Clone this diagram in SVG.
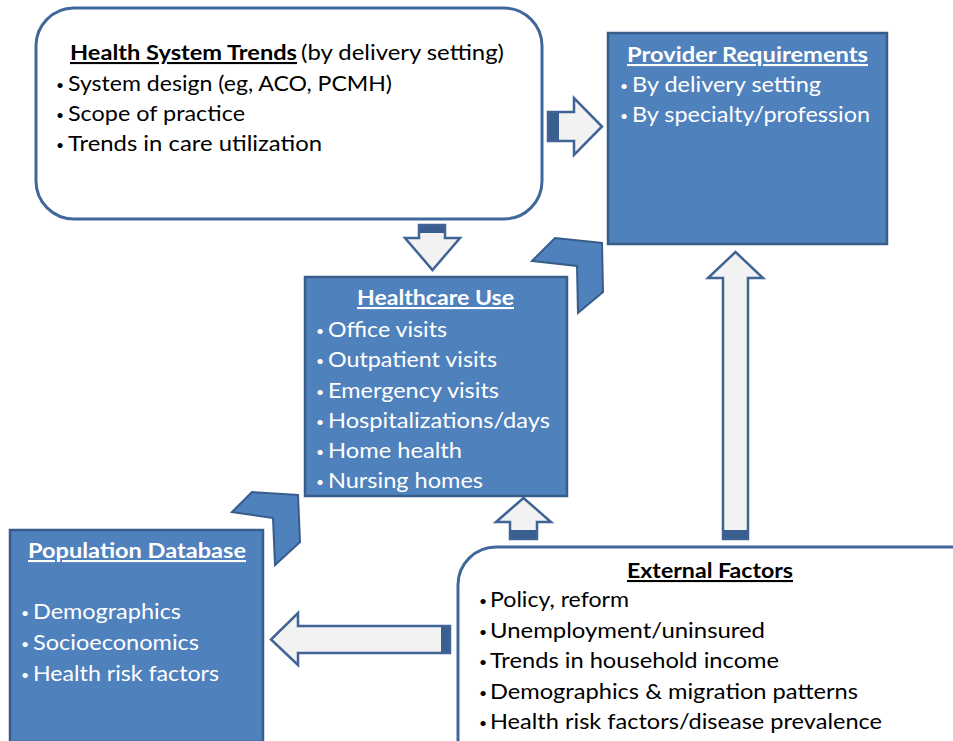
<svg xmlns="http://www.w3.org/2000/svg" width="953" height="741" viewBox="0 0 953 741">
<style>
.wbox{fill:#FFFFFF;stroke:#41689A;stroke-width:3}
.bbox{fill:#4F81BD;stroke:#385D8A;stroke-width:2.5}
.t{font-family:Lato,"Liberation Sans",sans-serif;font-size:21px}
.b{font-family:Lato,"Liberation Sans",sans-serif;font-size:14px}
.dk{fill:#000000}
.wt{fill:#FFFFFF}
.ttl{font-weight:bold;text-decoration:underline}
.arr{fill:#F2F2F2;stroke:#3F6495;stroke-width:2.5;stroke-linejoin:miter}
.arrd{fill:#3A5F8F}
.chev{fill:#4F81BD;stroke:#385D8A;stroke-width:2}
</style>
<rect width="953" height="741" fill="#FFFFFF"/>

<g id="connectors">
<path class="arr" d="M548,112 H574 V98 L602,126.5 L574,155 V141 H548 Z"/>
<rect class="arrd" x="549" y="113" width="10" height="27"/>
<path class="arr" d="M419,225 H445 V238 H460 L432.5,270 L405,238 H419 Z"/>
<rect class="arrd" x="420" y="226" width="24" height="7"/>
<path class="chev" d="M532,261 L555,238 L602,243 L603,292 L578,313 L577,266 Z"/>
<path class="chev" d="M232,512 L252,492 L298,495 L300,542 L275,565 L273,518 Z"/>
<path class="arr" d="M510,539 V522 H496 L523.5,498 L551,522 H537 V539 Z"/>
<rect class="arrd" x="511" y="530" width="25" height="8"/>
<path class="arr" d="M723,539 V278 H708 L735.5,252 L763,278 H748 V539 Z"/>
<rect class="arrd" x="724" y="530" width="23" height="8"/>
<path class="arr" d="M450,626 H298 V613 L271,639.5 L298,665 V653 H450 Z"/>
<rect class="arrd" x="441" y="627" width="8" height="25"/>
</g>

<g id="health-system-trends">
<rect class="wbox" x="36" y="8" width="506" height="211" rx="38" ry="38"/>
<text class="t dk ttl" x="70" y="60" textLength="227" lengthAdjust="spacingAndGlyphs">Health System Trends</text>
<text class="t dk" x="301" y="60" textLength="203" lengthAdjust="spacingAndGlyphs">(by delivery setting)</text>
<text class="b dk" x="56" y="90">•</text>
<text class="t dk" x="68" y="91" textLength="324" lengthAdjust="spacingAndGlyphs">System design (eg, ACO, PCMH)</text>
<text class="b dk" x="56" y="120">•</text>
<text class="t dk" x="68" y="121" textLength="177" lengthAdjust="spacingAndGlyphs">Scope of practice</text>
<text class="b dk" x="56" y="150">•</text>
<text class="t dk" x="68" y="151" textLength="254" lengthAdjust="spacingAndGlyphs">Trends in care utilization</text>
</g>

<g id="provider-requirements">
<rect class="bbox" x="608" y="33" width="279" height="211"/>
<text class="t wt ttl" x="627" y="62" textLength="241" lengthAdjust="spacingAndGlyphs">Provider Requirements</text>
<text class="b wt" x="620" y="91">•</text>
<text class="t wt" x="632" y="92" textLength="189" lengthAdjust="spacingAndGlyphs">By delivery setting</text>
<text class="b wt" x="620" y="121">•</text>
<text class="t wt" x="632" y="122" textLength="238" lengthAdjust="spacingAndGlyphs">By specialty/profession</text>
</g>

<g id="healthcare-use">
<rect class="bbox" x="305" y="277" width="262" height="219"/>
<text class="t wt ttl" x="357" y="305" textLength="157" lengthAdjust="spacingAndGlyphs">Healthcare Use</text>
<text class="b wt" x="316" y="336">•</text>
<text class="t wt" x="328" y="337" textLength="119" lengthAdjust="spacingAndGlyphs">Office visits</text>
<text class="b wt" x="316" y="366">•</text>
<text class="t wt" x="328" y="367" textLength="169" lengthAdjust="spacingAndGlyphs">Outpatient visits</text>
<text class="b wt" x="316" y="397">•</text>
<text class="t wt" x="328" y="398" textLength="171" lengthAdjust="spacingAndGlyphs">Emergency visits</text>
<text class="b wt" x="316" y="427">•</text>
<text class="t wt" x="328" y="428" textLength="222" lengthAdjust="spacingAndGlyphs">Hospitalizations/days</text>
<text class="b wt" x="316" y="457">•</text>
<text class="t wt" x="328" y="458" textLength="134" lengthAdjust="spacingAndGlyphs">Home health</text>
<text class="b wt" x="316" y="487">•</text>
<text class="t wt" x="328" y="488" textLength="155" lengthAdjust="spacingAndGlyphs">Nursing homes</text>
</g>

<g id="population-database">
<rect class="bbox" x="10" y="530" width="253" height="212"/>
<text class="t wt ttl" x="28" y="558" textLength="218" lengthAdjust="spacingAndGlyphs">Population Database</text>
<text class="b wt" x="21" y="618">•</text>
<text class="t wt" x="33" y="619" textLength="148" lengthAdjust="spacingAndGlyphs">Demographics</text>
<text class="b wt" x="21" y="649">•</text>
<text class="t wt" x="33" y="650" textLength="166" lengthAdjust="spacingAndGlyphs">Socioeconomics</text>
<text class="b wt" x="21" y="680">•</text>
<text class="t wt" x="33" y="681" textLength="186" lengthAdjust="spacingAndGlyphs">Health risk factors</text>
</g>

<g id="external-factors">
<rect class="wbox" x="458" y="547" width="540" height="230" rx="38" ry="38"/>
<text class="t dk ttl" x="627" y="578" textLength="166" lengthAdjust="spacingAndGlyphs">External Factors</text>
<text class="b dk" x="479" y="606">•</text>
<text class="t dk" x="490" y="607" textLength="139" lengthAdjust="spacingAndGlyphs">Policy, reform</text>
<text class="b dk" x="479" y="637">•</text>
<text class="t dk" x="490" y="638" textLength="275" lengthAdjust="spacingAndGlyphs">Unemployment/uninsured</text>
<text class="b dk" x="479" y="667">•</text>
<text class="t dk" x="490" y="668" textLength="289" lengthAdjust="spacingAndGlyphs">Trends in household income</text>
<text class="b dk" x="479" y="698">•</text>
<text class="t dk" x="490" y="699" textLength="368" lengthAdjust="spacingAndGlyphs">Demographics &amp; migration patterns</text>
<text class="b dk" x="479" y="728">•</text>
<text class="t dk" x="490" y="729" textLength="392" lengthAdjust="spacingAndGlyphs">Health risk factors/disease prevalence</text>
</g>
</svg>
